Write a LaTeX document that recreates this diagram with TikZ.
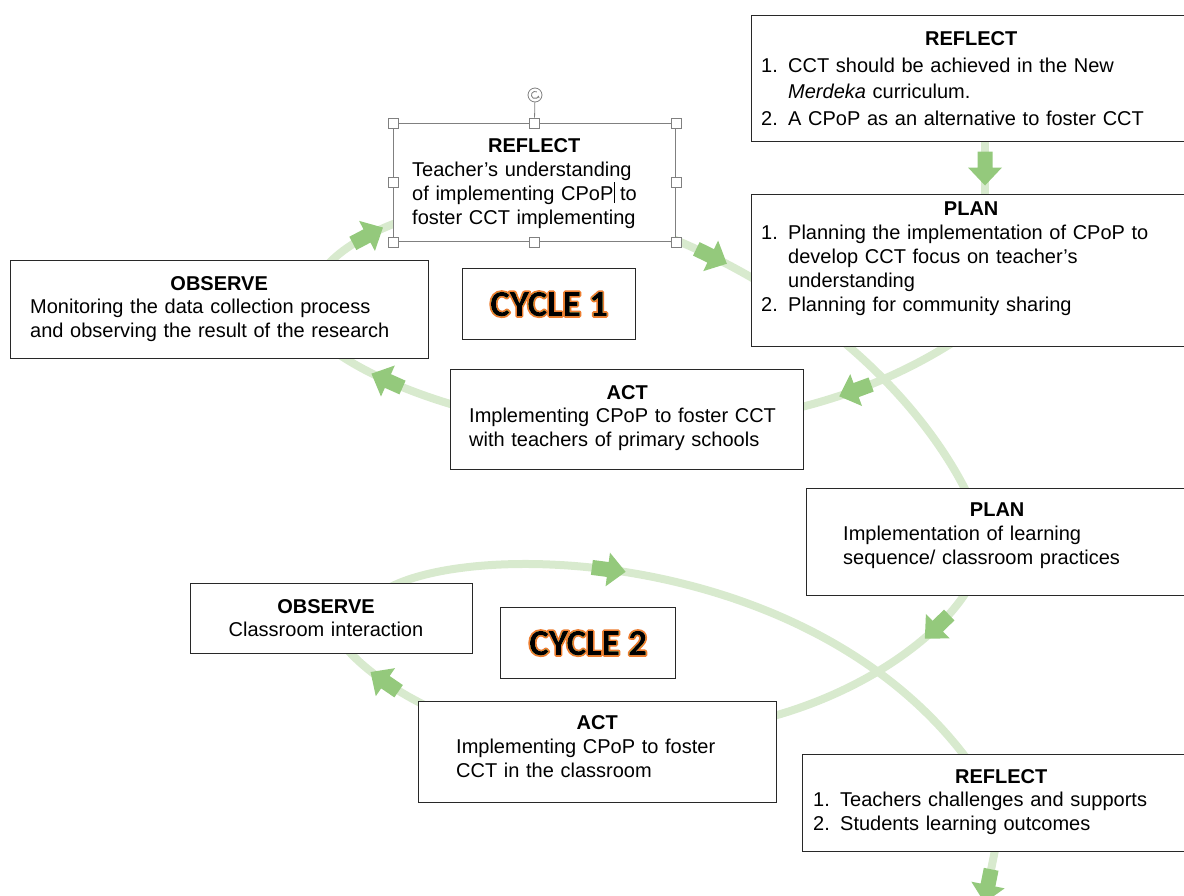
\documentclass[tikz,border=0pt]{standalone}
\usepackage{fontspec}
\setmainfont{Liberation Sans}
\newfontfamily\cyclefont{Carlito}
\usetikzlibrary{decorations.markings,arrows.meta}

\definecolor{loopgreen}{RGB}{216,234,206}
\definecolor{tipgreen}{RGB}{148,201,124}
\definecolor{boxline}{RGB}{40,40,40}
\definecolor{selgray}{RGB}{128,128,128}

% black letters with an orange outline (fill + stroke rendering mode);
% used under a darken blend so the stroke only shows outside the letters
\newcommand\glowtext[1]{%
  \special{pdf:code q 2 Tr 3.4 w 1 J 1 j 0.93 0.49 0.19 RG}#1\special{pdf:code Q}}
% bold heading centred over a given width
\newcommand\heading[2]{\makebox[#1pt][c]{\bfseries #2}\par}
% numbered line with hanging indent
\newcommand\numitem[2]{\par\hangindent=27pt\hangafter=1\makebox[27pt][l]{#1}#2\par}

\begin{document}
\begin{tikzpicture}[x=1pt,y=-1pt,
  cyclepath/.style={draw=loopgreen, line width=8pt,
    postaction={decorate, decoration={markings,
      mark=at position #1 with {\fill[tipgreen] (-16pt,-7.5pt) -- (0pt,-7.5pt) -- (0pt,-17pt)
        -- (18pt,0pt) -- (0pt,17pt) -- (0pt,7.5pt) -- (-16pt,7.5pt) -- cycle;}}}},
  stagebox/.style={draw=boxline, line width=1.2pt, fill=white, rectangle,
    inner sep=0pt, anchor=north west},
  stagetext/.style={inner sep=0pt, anchor=base west, align=left, text width=450pt,
    font=\fontsize{20}{#1}\selectfont},
  stagetext/.default=24,
  grip/.style={draw=selgray, fill=white, line width=0.7pt, rectangle,
    minimum size=10pt, inner sep=0pt},
  cyclelabel/.style={font=\cyclefont\bfseries\fontsize{37}{40}\selectfont}]

\clip (0,0) rectangle (1184,895);

% ---- end points of the spiral arcs (hidden behind the boxes)
\coordinate (reflAin) at (985,125);
\coordinate (planAtop) at (985,210);
\coordinate (planAout) at (985,320);
\coordinate (actAinR) at (780,412);
\coordinate (actAinL) at (480,412);
\coordinate (obsAinB) at (320,340);
\coordinate (obsAinT) at (320,275);
\coordinate (reflBinL) at (420,215);
\coordinate (reflBinR) at (650,230);
\coordinate (planBtop) at (975,510);
\coordinate (planBout) at (975,575);
\coordinate (actBinR) at (750,722);
\coordinate (actBinL) at (440,712);
\coordinate (obsBinB) at (340,640);
\coordinate (obsBinT) at (385,590);
\coordinate (reflCtop) at (975,770);
\coordinate (reflCout) at (998,835);
\coordinate (nextcycle) at (978,935);

% ---- cycle 1
\draw[cyclepath=0.5] (reflAin) -- (planAtop);
\draw[cyclepath=0.65] (planAout) .. controls (930,362) and (860,395) .. (actAinR);
\draw[cyclepath=0.55] (actAinL) .. controls (430,400) and (360,375) .. (obsAinB);
\draw[cyclepath=0.52] (obsAinT) .. controls (335,250) and (375,228) .. (reflBinL);
\draw[cyclepath=0.15] (reflBinR) .. controls (800,285) and (925,395) .. (planBtop);
% ---- cycle 2
\draw[cyclepath=0.23] (planBout) .. controls (955,625) and (870,695) .. (actBinR);
\draw[cyclepath=0.5] (actBinL) .. controls (410,700) and (360,670) .. (obsBinB);
\draw[cyclepath=0.345] (obsBinT) .. controls (472,538) and (820,548) .. (reflCtop);
\draw[cyclepath=0.5] (reflCout) -- (nextcycle);

% ---- boxes
\node[stagebox, minimum width=440pt, minimum height=126pt] (reflA) at (751,15) {};
\node[stagebox, minimum width=440pt, minimum height=152pt] (planA) at (751,194) {};
\node[stagebox, draw=selgray, line width=0.9pt, minimum width=282pt, minimum height=118pt] (reflB) at (393,123) {};
\node[stagebox, minimum width=418pt, minimum height=98pt] (obsA) at (10,260) {};
\node[stagebox, minimum width=353pt, minimum height=100pt] (actA) at (450,369) {};
\node[stagebox, minimum width=382pt, minimum height=107pt] (planB) at (806,488) {};
\node[stagebox, minimum width=282pt, minimum height=70pt] (obsB) at (190,583) {};
\node[stagebox, minimum width=358pt, minimum height=101pt] (actB) at (418,701) {};
\node[stagebox, minimum width=398pt, minimum height=97pt] (reflC) at (802,754) {};
\begin{scope}[blend mode=darken]
  \node[stagebox, minimum width=173pt, minimum height=71pt, cyclelabel] (cycA) at (462,268) {\glowtext{CYCLE 1}};
  \node[stagebox, minimum width=175pt, minimum height=71pt, cyclelabel] (cycB) at (500,607) {\glowtext{CYCLE 2}};
\end{scope}

% ---- box texts
\node[stagetext=26.5] (reflAtext) at (761,45.5) {%
  \heading{420}{REFLECT}%
  \numitem{1.}{CCT should be achieved in the New\newline\textit{Merdeka} curriculum.}%
  \numitem{2.}{A CPoP as an alternative to foster CCT}};
\node[stagetext] (planAtext) at (761,215.5) {%
  \heading{420}{PLAN}%
  \numitem{1.}{Planning the implementation of CPoP to\newline develop CCT focus on teacher’s\newline understanding}%
  \numitem{2.}{Planning for community sharing}};
\node[stagetext] (reflBtext) at (412,152.7) {%
  \heading{244}{REFLECT}%
  Teacher’s understanding\newline
  of implementing CPoP\rlap{\kern0.8pt\rule[-2.5pt]{0.9pt}{21.5pt}} to\newline
  foster CCT implementing};
\node[stagetext=23.5] (obsAtext) at (30,290) {%
  \heading{378}{OBSERVE}%
  Monitoring the data collection process\newline
  and observing the result of the research};
\node[stagetext=23.5] (actAtext) at (469,399) {%
  \heading{316}{ACT}%
  Implementing CPoP to foster CCT\newline
  with teachers of primary schools};
\node[stagetext] (planBtext) at (843,516) {%
  \heading{308}{PLAN}%
  Implementation of learning\newline
  sequence/ classroom practices};
\node[inner sep=0pt, anchor=base, align=center, text width=260pt,
  font=\fontsize{20}{23.5}\selectfont] (obsBtext) at (326,613) {%
  \textbf{OBSERVE}\\Classroom interaction};
\node[stagetext] (actBtext) at (456,729) {%
  \heading{282}{ACT}%
  Implementing CPoP to foster\newline
  CCT in the classroom};
\node[stagetext=23.5] (reflCtext) at (813,783) {%
  \heading{376}{REFLECT}%
  \numitem{1.}{Teachers challenges and supports}%
  \numitem{2.}{Students learning outcomes}};

% ---- selection handles around the middle reflect box
\foreach \a/\n in {north west/gNW, north/gN, north east/gNE, east/gE,
                   south east/gSE, south/gS, south west/gSW, west/gW}
  \node[grip] (\n) at (reflB.\a) {};
\node[circle, draw=selgray, fill=white, line width=0.8pt, minimum size=14pt,
  inner sep=0pt] (rot) at (535,95) {};
\draw[selgray, line width=0.8pt] (rot) -- (gN);
\draw[selgray, line width=0.8pt, -{Stealth[length=2.4pt,width=3pt]}]
  (rot.center) ++(60:3.6pt) arc[start angle=60, end angle=350, radius=3.6pt];
\end{tikzpicture}
\end{document}
